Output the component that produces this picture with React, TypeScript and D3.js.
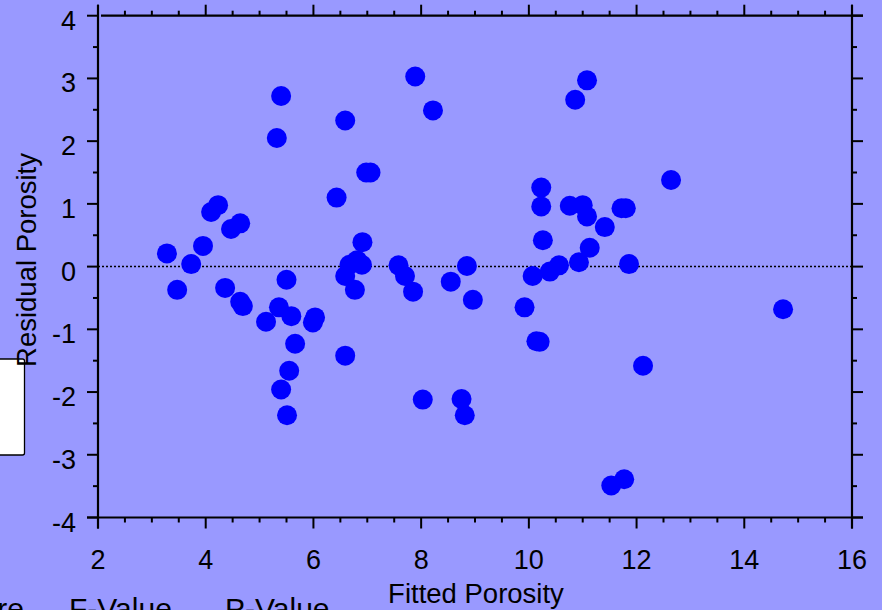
import React from "react";
import * as d3 from "d3";

// Fitted vs residual porosity for each sample
const fitted = [
  3.28, 3.47, 3.73, 3.95, 4.1, 4.23, 4.36, 4.47, 4.64, 4.64,
  4.69, 5.12, 5.32, 5.36, 5.4, 5.4, 5.5, 5.51, 5.55, 5.59,
  5.66, 5.99, 6.03, 6.43, 6.59, 6.59, 6.59, 6.67, 6.77, 6.81,
  6.9, 6.91, 6.98, 7.06, 7.58, 7.7, 7.85, 7.89, 8.03, 8.22,
  8.55, 8.75, 8.81, 8.85, 8.96, 9.92, 10.07, 10.14, 10.2, 10.23,
  10.23, 10.26, 10.39, 10.56, 10.76, 10.86, 10.93, 11.0, 11.08, 11.08,
  11.13, 11.41, 11.53, 11.72, 11.8, 11.77, 11.86, 12.12, 12.64, 14.72,
];
const residual = [
  0.21, -0.37, 0.04, 0.33, 0.87, 0.98, -0.34, 0.6, 0.69, -0.56,
  -0.63, -0.88, 2.05, -0.65, 2.72, -1.96, -0.21, -2.37, -1.66, -0.79,
  -1.23, -0.89, -0.81, 1.1, 2.33, -0.15, -1.42, 0.03, -0.37, 0.1,
  0.03, 0.39, 1.5, 1.5, 0.02, -0.15, -0.4, 3.03, -2.12, 2.49,
  -0.24, -2.11, -2.37, 0.01, -0.53, -0.65, -0.15, -1.19, -1.2, 1.26,
  0.96, 0.42, -0.08, 0.02, 0.97, 2.66, 0.07, 0.98, 2.97, 0.8,
  0.3, 0.63, -3.49, 0.93, 0.93, -3.39, 0.04, -1.58, 1.38, -0.68,
];

const xTicks = [2, 4, 6, 8, 10, 12, 14, 16];
const yTicks = [-4, -3, -2, -1, 0, 1, 2, 3, 4];
const xMinor = d3.range(2, 16.01, 0.5).filter((v) => v % 2 !== 0);
const yMinor = d3.range(-4, 4.01, 0.5).filter((v) => v % 1 !== 0);

const tableHeaders = ["Mean Square", "F-Value", "P-Value"];

const W = 882;
const H = 610;
const FONT = "'Liberation Sans', Arial, Helvetica, sans-serif";
const BG = "#9999ff";
const DOT = "#0000ff";

export default function App() {
  const x = d3.scaleLinear().domain([2, 16]).range([98, 852]);
  const y = d3.scaleLinear().domain([-4, 4]).range([517.5, 15.7]);
  const [x0, x1] = x.range();
  const [y0, y1] = y.range();
  const major = 11;
  const minor = 5;

  return (
    <svg
      width={W}
      height={H}
      style={{ position: "absolute", left: 0, top: 0, display: "block" }}
      fontFamily={FONT}
    >
      <rect x={0} y={0} width={W} height={H} fill={BG} />

      {/* white box at left edge */}
      <rect x={-10} y={359} width={34.5} height={96} rx={2} fill="#ffffff" stroke="#000" strokeWidth={1.3} />

      {/* zero reference */}
      <line x1={x0} x2={x1} y1={y(0)} y2={y(0)} stroke="#000" strokeWidth={1.5} strokeDasharray="2,2" />

      {/* points */}
      {fitted.map((f, i) => (
        <circle key={i} cx={x(f)} cy={y(residual[i])} r={10} fill={DOT} />
      ))}

      {/* frame */}
      <g stroke="#000" strokeWidth={2.2} fill="none">
        <line x1={x0} x2={x0} y1={y1 - major} y2={y0 + major} />
        <line x1={x1} x2={x1} y1={y1 - major} y2={y0 + major} />
        <line x1={x0 - major} x2={x1 + major} y1={y0} y2={y0} />
        <line x1={x0 + 3} x2={x1 + major} y1={y1} y2={y1} />
      </g>

      {/* ticks */}
      <g stroke="#000" strokeWidth={2}>
        {xTicks.map((v) => (
          <g key={"xt" + v}>
            <line x1={x(v)} x2={x(v)} y1={y0} y2={y0 + major} />
            <line x1={x(v)} x2={x(v)} y1={y1} y2={y1 - major} />
          </g>
        ))}
        {xMinor.map((v) => (
          <g key={"xm" + v}>
            <line x1={x(v)} x2={x(v)} y1={y0} y2={y0 + minor} />
            <line x1={x(v)} x2={x(v)} y1={y1} y2={y1 - minor} />
          </g>
        ))}
        {yTicks.map((v) => (
          <g key={"yt" + v}>
            <line x1={x0} x2={x0 - major} y1={y(v)} y2={y(v)} />
            <line x1={x1} x2={x1 + major} y1={y(v)} y2={y(v)} />
          </g>
        ))}
        {yMinor.map((v) => (
          <g key={"ym" + v}>
            <line x1={x0} x2={x0 - minor} y1={y(v)} y2={y(v)} />
            <line x1={x1} x2={x1 + minor} y1={y(v)} y2={y(v)} />
          </g>
        ))}
      </g>

      {/* tick labels */}
      <g fontSize={27} fill="#000">
        {xTicks.map((v) => (
          <text key={"xl" + v} x={x(v)} y={569} textAnchor="middle">
            {v}
          </text>
        ))}
        {yTicks.map((v) => (
          <text key={"yl" + v} x={76} y={y(v) + 14} textAnchor="end">
            {v}
          </text>
        ))}
      </g>

      {/* axis titles */}
      <text x={476} y={603} textAnchor="middle" fontSize={27.5} fill="#000">
        Fitted Porosity
      </text>
      <text
        transform={`translate(36,260) rotate(-90)`}
        textAnchor="middle"
        fontSize={27.5}
        fill="#000"
      >
        Residual Porosity
      </text>

      {/* table header row running off the bottom edge */}
      <g fontSize={30} fill="#000">
        <text x={24} y={618.5} textAnchor="end">{tableHeaders[0]}</text>
        <text x={69} y={618.5}>{tableHeaders[1]}</text>
        <text x={225} y={618.5}>{tableHeaders[2]}</text>
      </g>
    </svg>
  );
}
